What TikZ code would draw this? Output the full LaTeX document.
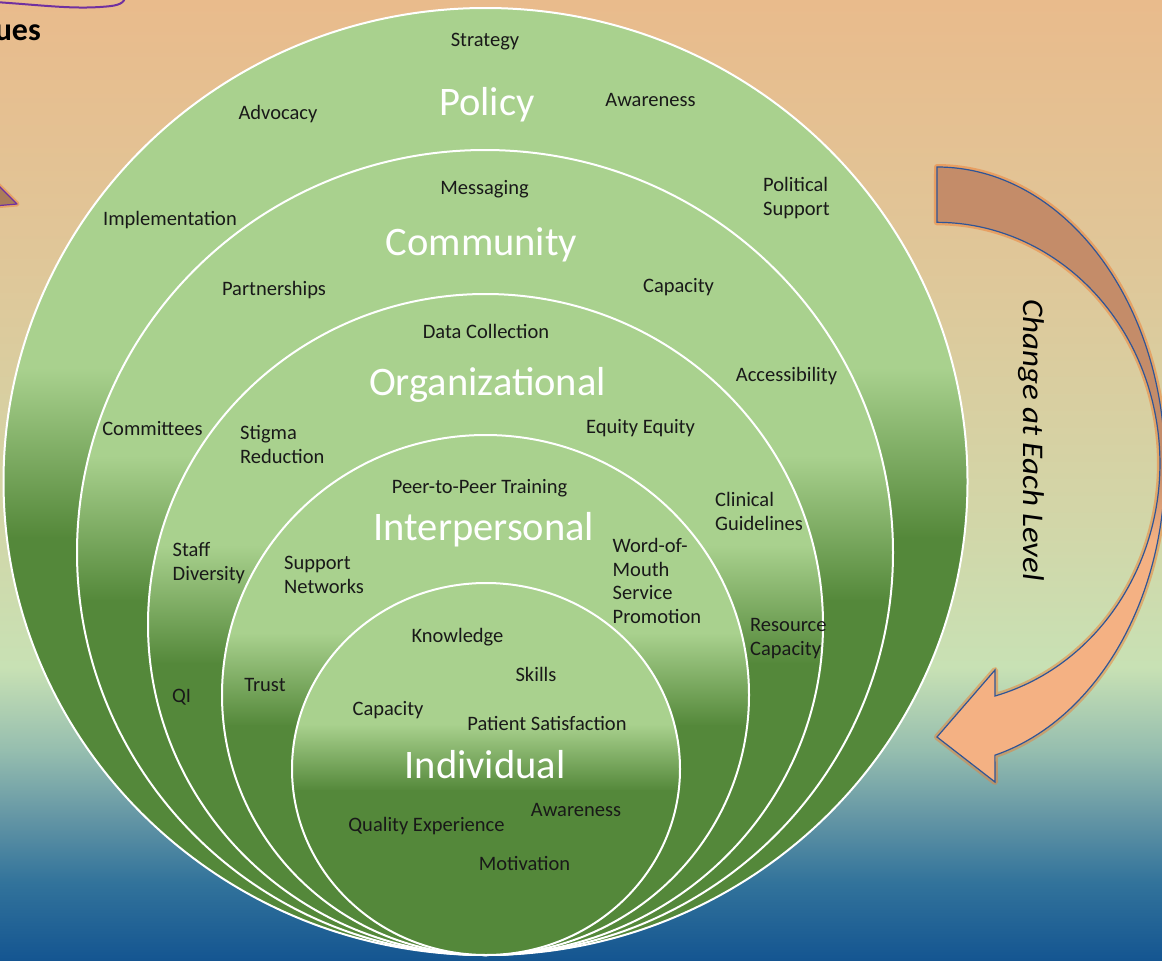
\documentclass[tikz,border=0pt]{standalone}
\usepackage{fontspec}
\usepackage{graphicx}
\setmainfont{Carlito}
\definecolor{lt}{RGB}{169,209,142}
\definecolor{dk}{RGB}{84,136,58}
\definecolor{bgA}{RGB}{20,85,145}
\definecolor{bgB}{RGB}{50,115,155}
\definecolor{bgC}{RGB}{100,150,165}
\definecolor{bgD}{RGB}{150,190,175}
\definecolor{bgE}{RGB}{200,225,180}
\definecolor{bgF}{RGB}{210,214,168}
\definecolor{bgG}{RGB}{224,198,152}
\definecolor{bgH}{RGB}{233,187,140}
\definecolor{arD}{RGB}{196,140,105}
\definecolor{arL}{RGB}{244,177,131}
\definecolor{arBorder}{RGB}{47,85,151}
\definecolor{glow}{RGB}{237,125,49}
\definecolor{purp}{RGB}{112,48,160}
\definecolor{triFill}{RGB}{170,125,90}
\pgfdeclareverticalshading{bgshade}{100bp}{color(0bp)=(bgA); color(25bp)=(bgA); color(29.1bp)=(bgB); color(32.5bp)=(bgC); color(36bp)=(bgD); color(40.3bp)=(bgE); color(47.9bp)=(bgF); color(62bp)=(bgG); color(75bp)=(bgH); color(100bp)=(bgH)}
\pgfdeclareverticalshading{arrowshade}{100bp}{color(0bp)=(arL); color(44.6bp)=(arL); color(50.4bp)=(arD); color(100bp)=(arD)}
\tikzset{
  lbl/.style={font=\fontsize{20.5}{23.5}\selectfont, inner sep=0pt, align=left, text=black!90},
  lvl/.style={font=\fontsize{40.5}{48}\selectfont, inner sep=0pt, text=white},
  ringline/.style={draw=white, line width=2pt},
}
% #1 cx, #2 cy, #3 rx, #4 ry, #5 y where light ends, #6 y where dark starts
\newcommand{\ringfill}[6]{%
  \begin{scope}
    \clip (#1,#2) ellipse [x radius=#3pt, y radius=#4pt];
    \fill[lt] (0,0) rectangle (1162,#5+1);
    \shade[top color=lt, bottom color=dk] (0,#5) rectangle (1162,#6);
    \fill[dk] (0,#6-1) rectangle (1162,962);
  \end{scope}
  \draw[ringline] (#1,#2) ellipse [x radius=#3pt, y radius=#4pt];
}
\begin{document}
\begin{tikzpicture}[x=1pt,y=-1pt]
\useasboundingbox (0,0) rectangle (1162,961);
\clip (0,0) rectangle (1162,961);
% background
\shade[shading=bgshade] (0,0) rectangle (1162,961);
% top purple box edge and text
\draw[purp, line width=2pt] (-5,2) .. controls (40,5) and (70,9) .. (100,7) .. controls (115,6) and (123,5) .. (125,-2);
\node[font=\fontsize{32}{36}\selectfont\bfseries, anchor=base east, inner sep=0pt] (ues) at (41,40) {ues};
% left triangle arrow
\draw[glow, opacity=0.45, line width=5pt, line join=round] (-6,181) -- (17,204) -- (-6,206) -- cycle;
\filldraw[fill=triFill, draw=purp, line width=1.2pt, line join=round] (-6,181) -- (17,204) -- (-6,206) -- cycle;
% right curved arrow
\def\arrowpath{(937,167) arc[start angle=90, end angle=-75.3, x radius=228pt, y radius=299pt] -- (995,782) -- (937,737) -- (995,670) -- (995,696) arc[start angle=-74.9, end angle=90, x radius=223pt, y radius=241pt] -- cycle}
\draw[glow, opacity=0.5, line width=6pt, line join=round] \arrowpath;
\shade[shading=arrowshade, draw=arBorder, line width=1.2pt, line join=miter] \arrowpath;
\node[rotate=-90, font=\fontsize{30}{36}\selectfont\itshape, inner sep=0pt] (change) at (1031,440) {\scalebox{1.1}[1]{Change at Each Level}};
% nested circles
\ringfill{485.5}{481.5}{482}{473.5}{368}{538}
\ringfill{485}{552.5}{408}{402.5}{456}{601}
\ringfill{485.5}{624.5}{337.5}{330.5}{545}{664}
\ringfill{485.5}{695}{263.5}{260}{633}{726}
\ringfill{486}{769}{194}{186}{724}{791}
% Policy
\node[lbl, anchor=base] (strategy) at (485,46) {Strategy};
\node[lvl, anchor=base] (policy) at (487,115) {Policy};
\node[lbl, anchor=base] (advocacy) at (278,119) {Advocacy};
\node[lbl, anchor=base] (awareness1) at (650.5,106) {Awareness};
\node[lbl, anchor=base] (implementation) at (170,225) {Implementation};
\node[lbl, anchor=base west] (political) at (763,215) {Political\\Support};
% Community
\node[lbl, anchor=base] (messaging) at (484.5,194) {Messaging};
\node[lvl, anchor=base] (community) at (481.5,255) {Community};
\node[lbl, anchor=base] (partnerships) at (274,295) {Partnerships};
\node[lbl, anchor=base] (capacity1) at (678.5,292) {Capacity};
\node[lbl, anchor=base] (accessibility) at (786.5,381) {Accessibility};
\node[lbl, anchor=base] (committees) at (152.5,435) {Committees};
% Organizational
\node[lbl, anchor=base] (datacollection) at (486,338) {Data Collection};
\node[lvl, anchor=base] (organizational) at (487.5,395) {Organizational};
\node[lbl, anchor=base] (equity) at (640.5,433) {Equity Equity};
\node[lbl, anchor=base west] (stigma) at (240,463) {Stigma\\Reduction};
\node[lbl, anchor=base west] (clinical) at (715,530) {Clinical\\Guidelines};
\node[lbl, anchor=base west] (staff) at (172.5,580) {Staff\\Diversity};
\node[lbl, anchor=base west] (resource) at (750,655) {Resource\\Capacity};
\node[lbl, anchor=base] (qi) at (181.5,702) {QI};
% Interpersonal
\node[lbl, anchor=base] (peer) at (479.5,493) {Peer-to-Peer Training};
\node[lvl, anchor=base] (interpersonal) at (484,540) {Interpersonal};
\node[lbl, anchor=base west] (support) at (284,593) {Support\\Networks};
\node[lbl, anchor=base west] (wordofmouth) at (612.5,623) {Word-of-\\Mouth\\Service\\Promotion};
\node[lbl, anchor=base] (trust) at (265,691) {Trust};
% Individual
\node[lbl, anchor=base] (knowledge) at (457.5,642) {Knowledge};
\node[lbl, anchor=base] (skills) at (536,681) {Skills};
\node[lbl, anchor=base] (capacity2) at (388,715) {Capacity};
\node[lbl, anchor=base] (patient) at (547,730) {Patient Satisfaction};
\node[lvl, anchor=base] (individual) at (485,778) {Individual};
\node[lbl, anchor=base] (awareness2) at (576,816) {Awareness};
\node[lbl, anchor=base] (quality) at (426.5,831) {Quality Experience};
\node[lbl, anchor=base] (motivation) at (524.5,870) {Motivation};
\end{tikzpicture}
\end{document}
